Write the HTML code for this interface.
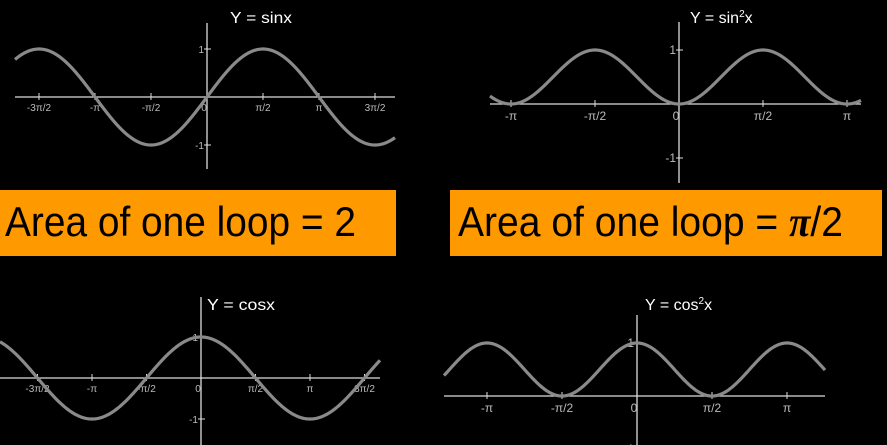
<!DOCTYPE html>
<html><head><meta charset="utf-8"><style>
html,body{margin:0;padding:0;background:#000;width:887px;height:445px;overflow:hidden}
svg{display:block}
text{font-family:"Liberation Sans",sans-serif}
</style></head><body>
<svg id="s" width="887" height="445">
<rect x="0" y="190" width="396" height="66" fill="#FF9900"/>
<text x="5" y="236" font-size="42" textLength="351" lengthAdjust="spacingAndGlyphs" fill="#000">Area of one loop = 2</text>
<rect x="450" y="190" width="432" height="66" fill="#FF9900"/>
<text x="458" y="236" font-size="42" textLength="385" lengthAdjust="spacingAndGlyphs" fill="#000">Area of one loop = <tspan font-family="Liberation Serif" font-style="italic" font-weight="bold">π</tspan>/2</text>
</svg>
<script>
const charts = [
 {name:'sin', fn:'sin', title:'Y = sin', sup:'', tail:'x', ox:207, oy:97, ux:56, uy:48, x0:15, x1:395, y0:23, y1:169, tx:230, ty:23, fs:10, tw:62,
  ticks:[-3,-2,-1,0,1,2,3], tickLabels:['-3π/2','-π','-π/2','0','π/2','π','3π/2'], yt:[1,-1]},
 {name:'sin-squared', fn:'sin2', title:'Y = sin', sup:'2', tail:'x', ox:679, oy:104, ux:84, uy:54, x0:490, x1:861, y0:22, y1:183, tx:690, ty:23, fs:12, tw:0,
  ticks:[-2,-1,0,1,2], tickLabels:['-π','-π/2','0','π/2','π'], yt:[1,-1]},
 {name:'cos', fn:'cos', title:'Y = cos', sup:'', tail:'x', ox:201, oy:378, ux:54.5, uy:41, x0:0, x1:380, y0:297, y1:445, tx:207, ty:310, fs:10, tw:68,
  ticks:[-3,-2,-1,0,1,2,3], tickLabels:['-3π/2','-π','-π/2','0','π/2','π','3π/2'], yt:[1,-1]},
 {name:'cos-squared', fn:'cos2', title:'Y = cos', sup:'2', tail:'x', ox:637, oy:396, ux:75, uy:53, x0:444, x1:825, y0:315, y1:445, tx:645, ty:310, fs:12, tw:0,
  ticks:[-2,-1,0,1,2], tickLabels:['-π','-π/2','0','π/2','π'], yt:[1,-1]}
];
const fns = {sin:Math.sin, cos:Math.cos, sin2:t=>Math.sin(t)**2, cos2:t=>Math.cos(t)**2};
const svg=document.getElementById('s'), NS='http://www.w3.org/2000/svg';
function mk(tag,attrs,parent){const e=document.createElementNS(NS,tag);for(const k in attrs)e.setAttribute(k,attrs[k]);(parent||svg).appendChild(e);return e;}
charts.forEach(c=>{
  const g=mk('g',{});
  
  
  const Y=v=>c.oy-v*c.uy;
  const xa=mk('line',{x1:c.x0,x2:c.x1,y1:c.oy,y2:c.oy,stroke:'#ddd','stroke-width':1.3},g);
  
  
  const ya=mk('line',{x1:c.ox,x2:c.ox,y1:c.y0,y2:c.y1,stroke:'#ddd','stroke-width':1.3},g);
  
  
  c.ticks.forEach((k,i)=>{
    const x=c.ox+k*c.ux;
    mk('line',{x1:x,x2:x,y1:c.oy-4,y2:c.oy+3,stroke:'#ddd','stroke-width':1},g);
    const t=mk('text',{x:k===0?x-3:x,y:c.oy+c.fs+4,'font-size':c.fs,fill:'#bbb','text-anchor':'middle'},g);
    t.textContent=c.tickLabels[i];
    
    
  });
  c.yt.forEach(v=>{
    const y=Y(v);
    mk('line',{x1:c.ox-3,x2:c.ox+4,y1:y,y2:y,stroke:'#ddd','stroke-width':1},g);
    const t=mk('text',{x:c.ox-3,y:y+4,'font-size':c.fs,fill:'#bbb','text-anchor':'end'},g);
    t.textContent=String(v);
    
    
  });
  let d='';
  for(let px=c.x0;px<=c.x1;px+=1){const t=(px-c.ox)/c.ux*Math.PI/2;d+=(d?'L':'M')+px+','+Y(fns[c.fn](t)).toFixed(2);}
  const p=mk('path',{d:d,fill:'none',stroke:'#8a8a8a','stroke-width':3.2},g);
  
  
  const ta={x:c.tx,y:c.ty,'font-size':16,fill:'#fff'};
  if(c.tw){ta.textLength=c.tw;ta.lengthAdjust='spacingAndGlyphs';}
  const tt=mk('text',ta,g);
  
  
  tt.appendChild(document.createTextNode(c.title));
  if(c.sup){const s=mk('tspan',{'font-size':10,dy:-6},tt);s.textContent=c.sup;const r=mk('tspan',{dy:6},tt);r.textContent=c.tail;}
  else tt.appendChild(document.createTextNode(c.tail));
});
</script>
</body></html>
